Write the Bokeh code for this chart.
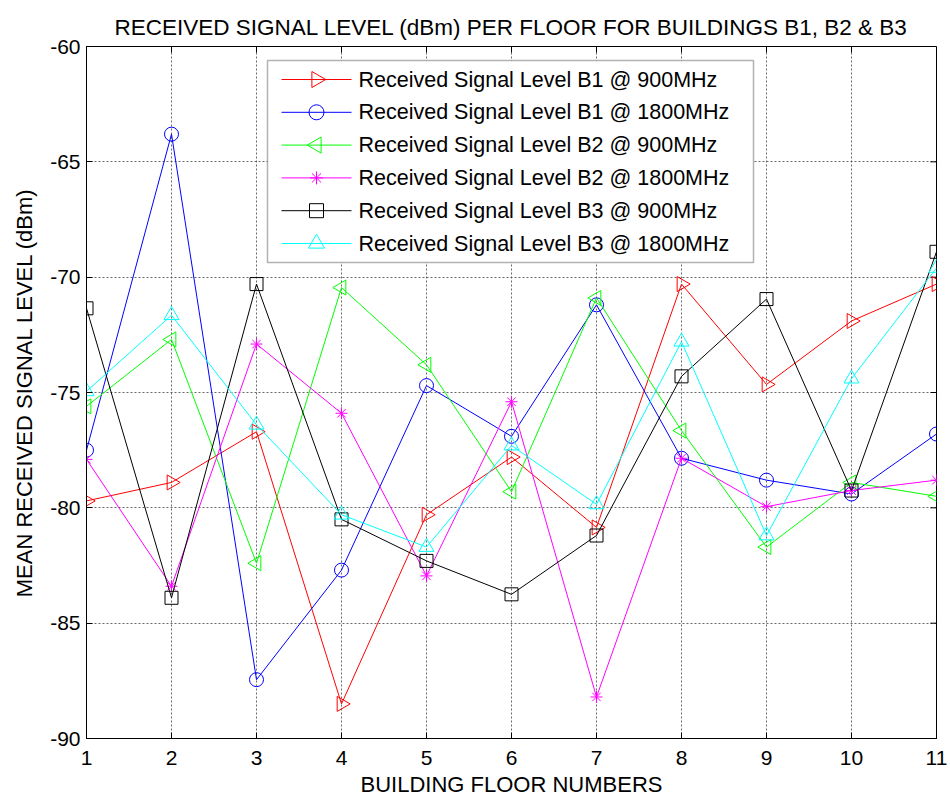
import math
from bokeh.plotting import figure
from bokeh.models import Range1d, FixedTicker, BoxAnnotation
from bokeh.core.properties import value
from bokeh.embed import file_html
from bokeh.resources import INLINE

floors = [1, 2, 3, 4, 5, 6, 7, 8, 9, 10, 11]
b1_900 = [-79.7, -78.9, -76.7, -88.5, -80.3, -77.8, -80.85, -70.3, -74.65, -71.9, -70.3]
b1_1800 = [-77.5, -63.8, -87.45, -82.7, -74.7, -76.9, -71.2, -77.85, -78.8, -79.4, -76.8]
b2_900 = [-75.6, -72.7, -82.4, -70.45, -73.8, -79.3, -70.9, -76.65, -81.7, -78.9, -79.5]
b2_1800 = [-77.9, -83.4, -72.9, -75.9, -82.95, -75.4, -88.2, -77.85, -79.95, -79.25, -78.8]
b3_900 = [-71.35, -83.9, -70.3, -80.5, -82.3, -83.75, -81.2, -74.3, -70.95, -79.25, -68.9]
b3_1800 = [-74.95, -71.65, -76.4, -80.3, -81.7, -77.3, -79.85, -72.8, -81.2, -74.4, -69.6]

y_ticks = [-90, -85, -80, -75, -70, -65, -60]

labels = [
    "Received Signal Level B1 @ 900MHz",
    "Received Signal Level B1 @ 1800MHz",
    "Received Signal Level B2 @ 900MHz",
    "Received Signal Level B2 @ 1800MHz",
    "Received Signal Level B3 @ 900MHz",
    "Received Signal Level B3 @ 1800MHz",
]
series = [b1_900, b1_1800, b2_900, b2_1800, b3_900, b3_1800]
colors = ["#FF0000", "#0000FF", "#00FF00", "#FF00FF", "#000000", "#00FFFF"]
markers = ["triangle", "circle", "triangle", "asterisk", "square", "triangle"]
angles = [-math.pi / 2, 0, math.pi / 2, 0, 0, 0]
sizes = [15, 14, 15, 12, 13, 15]

FONT = "Liberation Sans"
FRAME_W, FRAME_H = 850, 692

p = figure(width=950, height=802, output_backend="svg", toolbar_location=None,
           x_range=Range1d(1, 11), y_range=Range1d(-90, -60),
           min_border_left=86, min_border_right=14, min_border_top=46, min_border_bottom=64)

# pixel-space ranges for the hand-built legend
p.extra_x_ranges = {"px": Range1d(0, FRAME_W)}
p.extra_y_ranges = {"py": Range1d(FRAME_H, 0)}

p.title.text = "RECEIVED SIGNAL LEVEL (dBm) PER FLOOR FOR BUILDINGS B1, B2 & B3"
p.title.text_font = FONT
p.title.text_font_size = "22.5px"
p.title.text_font_style = "normal"
p.title.text_color = "black"
p.title.align = "center"
p.title.offset = 0
p.title.standoff = 13

p.outline_line_color = "black"
p.outline_line_width = 1

for ax in (p.xaxis[0], p.yaxis[0]):
    ax.major_label_text_font = FONT
    ax.major_label_text_font_size = "21px"
    ax.major_label_text_color = "black"
    ax.axis_label_text_font = FONT
    ax.axis_label_text_font_size = "22px"
    ax.axis_label_text_font_style = "normal"
    ax.axis_label_text_color = "black"
    ax.major_tick_in = 6
    ax.major_tick_out = 0
    ax.minor_tick_line_color = None
    ax.axis_line_color = "black"
    ax.major_tick_line_color = "black"

p.xaxis.ticker = FixedTicker(ticks=floors)
p.yaxis.ticker = FixedTicker(ticks=y_ticks)
p.yaxis.major_label_overrides = {t: str(t) for t in y_ticks}
p.xaxis.axis_label = "BUILDING FLOOR NUMBERS"
p.yaxis.axis_label = "MEAN RECEIVED SIGNAL LEVEL (dBm)"
p.xaxis.major_label_standoff = 12
p.yaxis.major_label_standoff = 6
p.xaxis.axis_label_standoff = 4
p.yaxis.axis_label_standoff = 10

p.xgrid.grid_line_color = "#444444"
p.ygrid.grid_line_color = "#444444"
p.xgrid.grid_line_dash = "2 2"
p.ygrid.grid_line_dash = "2 2"
p.xgrid.grid_line_alpha = 0.8
p.ygrid.grid_line_alpha = 0.8

# inward tick marks on the top and right edges of the box
p.ray(x=floors, y=[-60] * len(floors), length=6, length_units="screen",
      angle=-math.pi / 2, line_color="black", line_width=1)
p.ray(x=[11] * len(y_ticks), y=y_ticks, length=6, length_units="screen",
      angle=math.pi, line_color="black", line_width=1)

for ys, c, m, a, s in zip(series, colors, markers, angles, sizes):
    p.line(floors, ys, line_color=c, line_width=1)
    p.scatter(floors, ys, marker=m, angle=a, size=s, line_color=c,
              fill_color=None, line_width=1)

# legend (layout in frame pixels)
LEG_L, LEG_R, LEG_T, LEG_B = 181, 667, 14, 216
ROW0, ROW_STEP = 33, 32.8
SAMPLE_L, SAMPLE_R, TEXT_X = 195, 265, 272

p.add_layout(BoxAnnotation(left=LEG_L, right=LEG_R, top=LEG_T, bottom=LEG_B,
                           x_range_name="px", y_range_name="py",
                           fill_color="white", fill_alpha=1,
                           line_color="black", line_width=1.5, level="annotation"))
for i, (lab, c, m, a, s) in enumerate(zip(labels, colors, markers, angles, sizes)):
    yy = ROW0 + i * ROW_STEP
    p.line([SAMPLE_L, SAMPLE_R], [yy, yy], line_color=c, line_width=1,
           x_range_name="px", y_range_name="py", level="overlay")
    p.scatter([(SAMPLE_L + SAMPLE_R) / 2], [yy], marker=m, angle=a, size=s + 1,
              line_color=c, fill_color=None, line_width=1,
              x_range_name="px", y_range_name="py", level="overlay")
    p.text([TEXT_X], [yy], text=[lab], text_font=value(FONT), text_font_size="21.5px",
           text_baseline="middle", text_align="left", text_color="black",
           x_range_name="px", y_range_name="py", level="overlay")

open("out.html", "w").write(file_html(p, INLINE))
